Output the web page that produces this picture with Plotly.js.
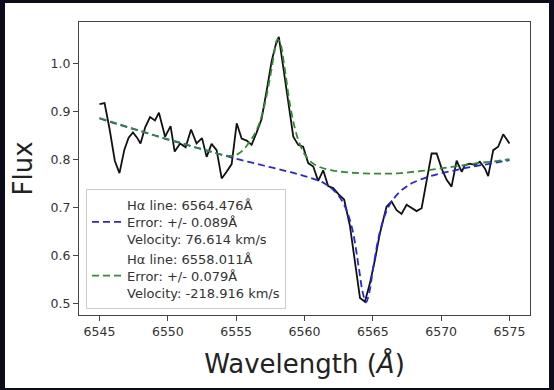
<!DOCTYPE html>
<html>
<head>
<meta charset="utf-8">
<script src="https://cdn.plot.ly/plotly-3.0.1.min.js"></script>
<style>html,body{margin:0;padding:0;background:#0c0c1c;}#chart{width:554px;height:390px;}</style>
</head>
<body>
<div id="chart"></div>
<script>
// Observed spectrum (black line)
const obsWavelength = [6545.00,6545.37,6545.75,6546.12,6546.46,6546.82,6547.13,6547.45,6547.75,6548.00,
  6548.35,6548.70,6549.06,6549.35,6549.80,6550.20,6550.50,6550.90,6551.30,6551.70,6552.10,6552.50,6552.84,
  6553.20,6553.57,6553.94,6554.30,6554.67,6555.04,6555.40,6555.77,6556.13,6556.50,6556.86,6557.23,6557.60,
  6557.90,6558.12,6558.45,6558.80,6559.18,6559.54,6559.90,6560.27,6560.64,6561.00,6561.37,6561.73,6562.10,
  6562.50,6562.90,6563.32,6563.69,6564.06,6564.42,6564.79,6565.15,6565.52,6566.00,6566.37,6566.74,6567.10,
  6567.47,6567.84,6568.20,6568.57,6568.94,6569.30,6569.67,6570.03,6570.40,6570.76,6571.13,6571.50,6571.74,
  6572.10,6572.47,6572.83,6573.20,6573.44,6573.81,6574.17,6574.54,6575.00];
const obsFlux = [0.916,0.918,0.862,0.798,0.772,0.821,0.846,0.857,0.846,0.834,
  0.868,0.889,0.882,0.898,0.848,0.870,0.817,0.834,0.826,0.863,0.834,0.845,0.806,
  0.833,0.820,0.761,0.775,0.791,0.876,0.844,0.840,0.831,0.857,0.885,0.944,1.006,
  1.040,1.056,0.992,0.918,0.848,0.831,0.827,0.793,0.786,0.756,0.778,0.745,0.741,
  0.728,0.717,0.663,0.585,0.512,0.504,0.543,0.591,0.647,0.702,0.713,0.695,0.687,
  0.706,0.699,0.693,0.699,0.758,0.813,0.813,0.782,0.758,0.744,0.798,0.775,0.789,
  0.792,0.789,0.796,0.782,0.766,0.820,0.827,0.853,0.834];

// Fit 1 (blue dashed)
const fit1Wavelength = [6545,6546,6547,6548,6549,6550,6551,6552,6553,6554,6555,6556,6557,6558,6559,6560,
  6561,6561.5,6562,6562.5,6563,6563.5,6564,6564.25,6564.5,6564.75,6565,6565.5,6566,6566.5,6567,6567.5,
  6568,6569,6570,6571,6572,6573,6574,6575];
const fit1Flux = [0.886,0.877,0.868,0.860,0.851,0.842,0.834,0.826,0.818,0.810,0.802,0.795,0.788,0.781,0.774,0.766,
  0.757,0.750,0.740,0.725,0.700,0.655,0.570,0.525,0.503,0.525,0.570,0.648,0.693,0.718,0.734,0.745,
  0.753,0.764,0.772,0.778,0.784,0.789,0.794,0.799];
const fit1Label = "Hα line: 6564.476Å<br>Error: +/- 0.089Å<br>Velocity: 76.614 km/s";

// Fit 2 (green dashed)
const fit2Wavelength = [6545,6546,6547,6548,6549,6550,6551,6552,6553,6554,6554.5,6555,6555.5,6556,6556.5,
  6557,6557.5,6557.8,6558.0,6558.2,6558.5,6559,6559.5,6560,6560.5,6561,6562,6563,6564,6565,6566,6567,
  6568,6569,6570,6571,6572,6573,6574,6575];
const fit2Flux = [0.887,0.878,0.869,0.860,0.851,0.843,0.835,0.826,0.818,0.810,0.808,0.810,0.820,0.838,0.862,
  0.905,0.975,1.025,1.050,1.045,1.000,0.905,0.845,0.812,0.795,0.786,0.778,0.774,0.772,0.771,0.771,0.772,
  0.775,0.778,0.782,0.786,0.790,0.794,0.797,0.801];
const fit2Label = "Hα line: 6558.011Å<br>Error: +/- 0.079Å<br>Velocity: -218.916 km/s";

const xTicks = [6545,6550,6555,6560,6565,6570,6575];
const yTicks = [0.5,0.6,0.7,0.8,0.9,1.0];

const traces = [
  {x: obsWavelength, y: obsFlux, type: 'scatter', mode: 'lines', showlegend: false,
   line: {color: '#111111', width: 1.8}, hoverinfo: 'skip'},
  {x: fit1Wavelength, y: fit1Flux, type: 'scatter', mode: 'lines', name: fit1Label,
   line: {color: '#2424f0', width: 1.8, dash: '7px,4px', shape: 'spline'}},
  {x: fit2Wavelength, y: fit2Flux, type: 'scatter', mode: 'lines', name: fit2Label,
   line: {color: '#2f8f2f', width: 1.8, dash: '7px,4px', shape: 'spline'}}
];

const W = 451, H = 293, L = 79, T = 22;
function px(p){ return (p - L) / W; }
function py(q){ return (T + H - q) / H; }

const layout = {
  width: 554, height: 390,
  margin: {l: 79, r: 24, t: 22, b: 75},
  paper_bgcolor: '#0c0c1c',
  plot_bgcolor: 'rgba(0,0,0,0)',
  font: {family: 'DejaVu Sans, sans-serif', color: '#222222'},
  shapes: [
    {type: 'rect', xref: 'paper', yref: 'paper', layer: 'below',
     x0: px(5), x1: px(549), y0: py(388), y1: py(3),
     fillcolor: '#ffffff', line: {width: 0}}
  ],
  xaxis: {
    range: [6543.5, 6576.5], tickvals: xTicks, ticktext: xTicks.map(String),
    showgrid: false, zeroline: false, showline: true, mirror: true,
    linecolor: '#444444', linewidth: 1, ticks: 'outside', ticklen: 5, tickwidth: 1, tickcolor: '#444444',
    tickfont: {size: 12.5, color: '#333333'},
    title: {text: 'Wavelength (<i>Å</i>)', font: {size: 26, color: '#222222'}, standoff: 16}
  },
  yaxis: {
    range: [0.4765, 1.087], tickvals: yTicks, ticktext: yTicks.map(v => v.toFixed(1)),
    showgrid: false, zeroline: false, showline: true, mirror: true,
    linecolor: '#444444', linewidth: 1, ticks: 'outside', ticklen: 5, tickwidth: 1, tickcolor: '#444444',
    tickfont: {size: 12.5, color: '#333333'},
    title: {text: 'Flux', font: {size: 26, color: '#222222'}, standoff: 10}
  },
  legend: {
    x: px(86), y: py(309), xanchor: 'left', yanchor: 'bottom',
    bgcolor: 'rgba(255,255,255,0.8)', bordercolor: '#cccccc', borderwidth: 1,
    font: {size: 13, color: '#333333'}, valign: 'middle', tracegroupgap: 0
  },
  showlegend: true
};

Plotly.newPlot('chart', traces, layout, {displayModeBar: false, staticPlot: true});
</script>
</body>
</html>
